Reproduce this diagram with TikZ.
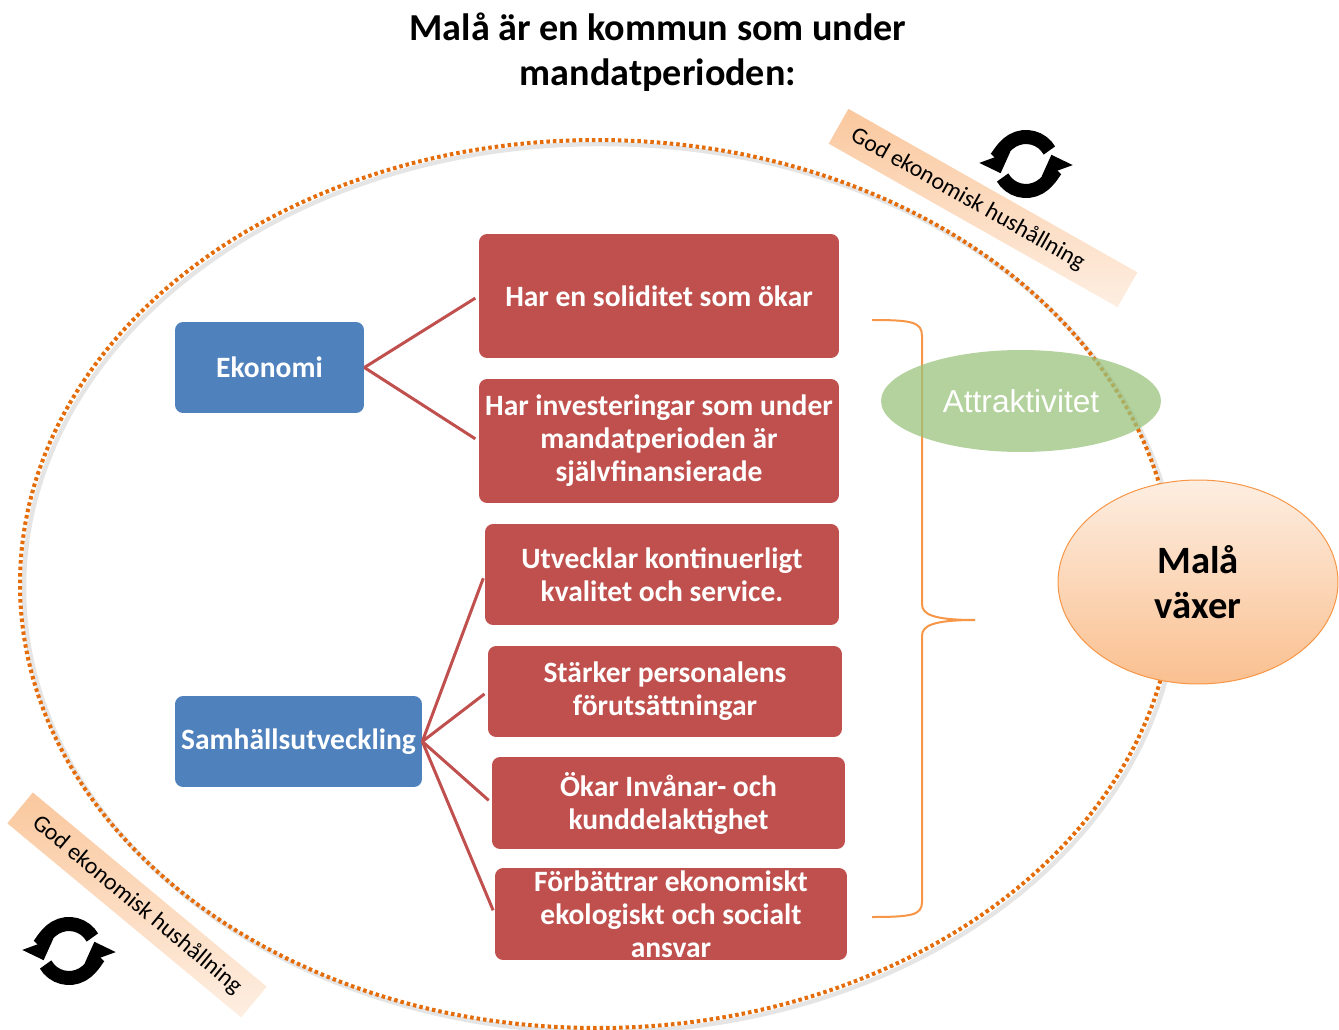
\documentclass[tikz,border=0pt]{standalone}
\usepackage{fontspec}
\setmainfont{Carlito}
\newfontfamily\arialfont{Liberation Sans}
\usetikzlibrary{arrows.meta,shapes.geometric}
\definecolor{boxred}{RGB}{192,80,77}
\definecolor{boxblue}{RGB}{79,129,189}
\definecolor{dotorange}{RGB}{228,108,10}
\definecolor{braceorange}{RGB}{247,150,70}
\definecolor{attrgreen}{RGB}{155,195,125}
\definecolor{peachtop}{RGB}{253,238,225}
\definecolor{peachbot}{RGB}{250,192,144}
\definecolor{bannerpeach}{RGB}{250,200,158}
\tikzset{
  redbox/.style = {fill = boxred, rounded corners = 0.16cm, text = white, align = center, inner sep = 0pt,
    font = \bfseries\fontsize{16.8}{18.8}\selectfont},
  bluebox/.style = {redbox, fill = boxblue, minimum height = 1.82cm},
  twig/.style = {draw = boxred, line width = 0.06cm, shorten > = 0.08cm},
  banner/.style = {top color = bannerpeach, bottom color = bannerpeach!30, inner sep = 0pt,
    minimum height = 0.8cm, font = \fontsize{13.5}{16}\selectfont}
}
\newcommand{\refreshicon}[1]{%
  \begin{scope}[shift = {(#1)}, x = 0.02cm, y = 0.02cm, line width = 0.28cm, -{Triangle[width = 0.64cm, length = 0.34cm]}]
    \draw (30:27) arc (30:200:27);
    \draw (210:27) arc (210:380:27);
  \end{scope}}
\begin{document}
\begin{tikzpicture}[x = 0.02cm, y = -0.02cm]
\useasboundingbox (0,0) rectangle (1339,1030);
\node[font = \bfseries\fontsize{21.7}{25.6}\selectfont, align = center] (title) at (658,52) {Malå är en kommun som under\\mandatperioden:};
\node[banner, minimum width = 6.64cm, rotate = -29.5] (bannerA) at (983,208) {God ekonomisk hushållning\hspace*{0.7cm}};
\node[banner, minimum width = 6.08cm, rotate = -39.7] (bannerB) at (137,905) {God ekonomisk hushållning};
\draw[black!10, line width = 0.09cm] (601,588) ellipse (577 and 444);
\draw[dotorange, line width = 0.08cm, dash pattern = on 0.07cm off 0.06cm] (597,584) ellipse (577 and 444);
\refreshicon{1026,164}
\refreshicon{69,951}
\node[bluebox, minimum width = 3.78cm] (eko) at (269.5,367.5) {Ekonomi};
\node[bluebox, minimum width = 4.94cm] (samh) at (298.5,741.5) {Samhällsutveckling};
\node[redbox, minimum width = 7.2cm, minimum height = 2.48cm] (r1) at (659,296) {Har en soliditet som ökar};
\node[redbox, minimum width = 7.2cm, minimum height = 2.48cm] (r2) at (659,441) {Har investeringar som under\\mandatperioden är\\självfinansierade};
\node[redbox, minimum width = 7.08cm, minimum height = 2.02cm] (r3) at (662,574.5) {Utvecklar kontinuerligt\\kvalitet och service.};
\node[redbox, minimum width = 7.08cm, minimum height = 1.82cm] (r4) at (665,691.5) {Stärker personalens\\förutsättningar};
\node[redbox, minimum width = 7.06cm, minimum height = 1.84cm] (r5) at (668.5,803) {Ökar Invånar- och\\kunddelaktighet};
\node[redbox, minimum width = 7.04cm, minimum height = 1.84cm] (r6) at (671,914) {Förbättrar ekonomiskt\\ekologiskt och socialt\\ansvar};
\foreach \t in {r1,r2}
  \draw[twig] (eko.east) -- (\t.west);
\foreach \t in {r3,r4,r5,r6}
  \draw[twig] (samh.east) -- (\t.west);
\draw[braceorange, line width = 0.04cm] (872,320) .. controls (912,320) and (922,322) .. (922,336) -- (922,604)
  .. controls (922,614) and (932,620) .. (975,620) .. controls (932,620) and (922,626) .. (922,636) -- (922,902)
  .. controls (922,915) and (912,917) .. (872,917);
\node[ellipse, fill = attrgreen, fill opacity = 0.75, text opacity = 1, text = white, minimum width = 5.6cm,
  minimum height = 2.04cm, font = \arialfont\fontsize{18}{20}\selectfont] (attr) at (1021,401) {Attraktivitet};
\node[ellipse, top color = peachtop, bottom color = peachbot, draw = braceorange, line width = 0.02cm, align = center,
  minimum width = 5.6cm, minimum height = 4.08cm, font = \bfseries\fontsize{22}{26}\selectfont] (grow) at (1198,582) {Malå\\växer};
\end{tikzpicture}
\end{document}
